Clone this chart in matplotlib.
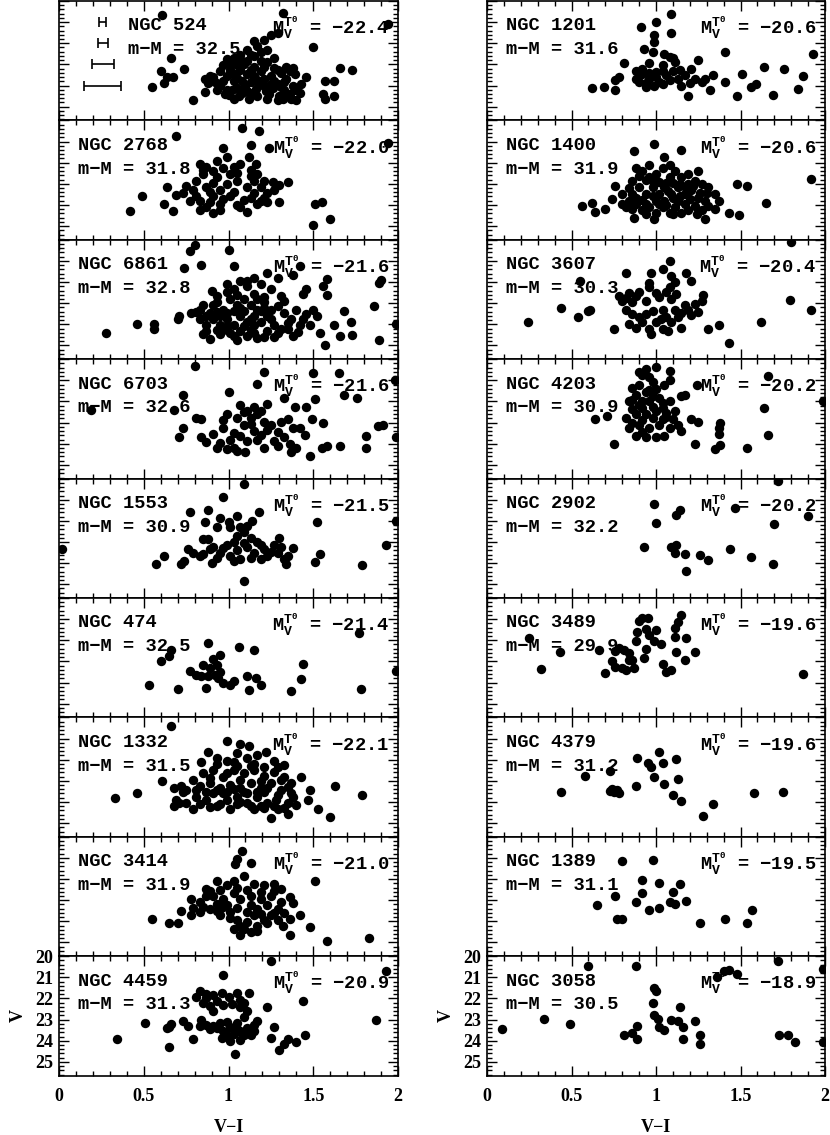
import numpy as np
import matplotlib.pyplot as plt
from matplotlib.ticker import MultipleLocator

plt.rcParams['font.family'] = ['Liberation Serif', 'DejaVu Serif']
plt.rcParams['font.weight'] = 'bold'
plt.rcParams['axes.labelweight'] = 'bold'
plt.rcParams['mathtext.fontset'] = 'custom'
plt.rcParams['mathtext.rm'] = 'Liberation Mono:bold'
plt.rcParams['mathtext.it'] = 'Liberation Mono:bold'

# galaxy labels, distance moduli and total magnitudes (left column, then right)
left_names = ['NGC 524', 'NGC 2768', 'NGC 6861', 'NGC 6703', 'NGC 1553',
              'NGC 474', 'NGC 1332', 'NGC 3414', 'NGC 4459']
left_dm = [32.5, 31.8, 32.8, 32.6, 30.9, 32.5, 31.5, 31.9, 31.3]
left_mv = [-22.4, -22.0, -21.6, -21.6, -21.5, -21.4, -22.1, -21.0, -20.9]

right_names = ['NGC 1201', 'NGC 1400', 'NGC 3607', 'NGC 4203', 'NGC 2902',
               'NGC 3489', 'NGC 4379', 'NGC 1389', 'NGC 3058']
right_dm = [31.6, 31.9, 30.3, 30.9, 32.2, 29.9, 31.2, 31.1, 30.5]
right_mv = [-20.6, -20.6, -20.4, -20.2, -20.2, -19.6, -19.6, -19.5, -18.9]

# typical errors in V-I at V = 21..24 (shown in the first panel)
err_v = [21, 22, 23, 24]
err_vi = [0.02, 0.03, 0.065, 0.11]

# globular clusters: (V-I, V)
n524 = [(0.61, 20.66), (1.32, 20.55), (1.94, 21.1), (0.66, 22.7), (0.74, 23.2), (0.60, 23.3), (0.64, 23.6),
        (0.67, 23.6), (0.62, 23.9), (0.55, 24.05), (0.79, 24.7), (0.86, 24.3), (0.86, 23.7), (0.89, 23.55),
        (1.50, 22.2), (1.66, 23.15), (1.73, 23.25), (1.38, 23.15), (1.46, 23.6), (1.57, 23.8), (1.62, 23.8),
        (1.57, 24.65), (1.62, 24.5), (1.56, 24.4), (1.03, 22.7), (1.07, 22.55), (1.11, 22.3), (1.15, 21.9),
        (1.21, 21.85), (1.25, 21.6), (1.29, 21.5), (1.17, 22.15), (0.99, 22.75), (1.07, 22.75), (1.01, 23.0),
        (1.15, 22.6), (1.19, 22.85), (1.11, 22.85), (1.34, 23.1), (1.27, 22.7), (0.95, 23.3), (0.99, 23.55),
        (1.03, 23.8), (1.07, 23.25), (1.11, 23.45), (1.15, 23.1), (1.19, 23.3), (1.23, 22.9), (1.27, 23.15),
        (1.31, 23.4), (1.34, 23.7), (1.38, 24.0), (1.42, 24.35), (0.95, 24.0), (0.98, 24.4), (1.02, 24.2),
        (1.06, 24.5), (1.10, 24.0), (1.14, 24.35), (1.18, 23.95), (1.22, 24.25), (1.26, 24.1), (1.30, 24.5),
        (1.33, 24.2), (1.37, 24.65), (1.40, 24.7), (1.43, 23.95), (0.97, 23.8), (1.01, 23.25), (1.05, 24.1),
        (1.09, 23.0), (1.13, 23.85), (1.17, 24.5), (1.21, 23.7), (1.25, 23.55), (1.29, 23.95), (1.32, 24.65),
        (1.36, 24.4), (1.39, 23.45), (0.91, 23.6), (0.92, 23.85), (0.88, 23.9), (1.03, 24.65), (1.12, 24.65),
        (1.23, 24.65), (1.29, 24.7), (1.03, 23.45), (1.15, 23.55), (1.27, 23.8), (0.99, 24.2), (1.11, 24.25),
        (1.21, 24.0), (1.33, 23.85), (1.08, 23.8), (0.97, 23.05), (1.05, 23.05), (1.13, 23.25), (1.21, 23.1),
        (1.29, 23.25), (1.36, 23.3), (1.00, 24.45), (1.08, 24.35), (1.16, 24.15), (1.24, 24.4), (1.31, 24.05),
        (1.40, 24.2), (1.13, 22.55), (1.23, 22.3), (1.19, 22.4), (0.93, 24.2), (1.05, 23.65), (1.17, 23.75),
        (1.25, 23.95), (1.35, 24.5)]
n2768 = [(1.08, 20.35), (1.18, 20.5), (0.69, 20.75), (1.94, 21.05), (0.97, 21.3), (1.13, 21.15), (1.24, 21.3),
         (1.50, 24.95), (1.60, 24.65), (1.51, 23.95), (1.55, 23.85), (0.42, 24.3), (0.49, 23.6), (0.62, 23.95),
         (0.67, 24.3), (0.64, 23.15), (0.69, 23.55), (0.73, 23.45), (1.35, 22.9), (1.30, 23.85), (1.23, 23.85),
         (0.83, 22.05), (0.87, 22.2), (0.93, 21.9), (0.99, 21.75), (1.03, 22.2), (1.07, 22.05), (1.12, 21.75),
         (1.16, 22.05), (1.17, 22.55), (1.21, 22.85), (1.26, 22.9), (0.79, 23.3), (0.83, 23.8), (0.87, 24.1),
         (0.91, 24.4), (0.95, 23.95), (0.81, 22.85), (0.87, 23.15), (0.93, 22.7), (0.99, 23.0), (1.05, 22.85),
         (1.11, 23.15), (1.15, 23.45), (1.07, 24.1), (1.11, 24.35), (1.17, 23.95), (1.01, 23.6), (0.95, 23.3),
         (1.03, 23.4), (1.09, 23.75), (0.91, 23.6), (0.77, 23.8), (0.85, 22.55), (1.01, 22.55), (1.13, 22.65),
         (1.19, 23.15), (1.23, 23.45), (1.27, 23.3), (1.30, 23.05), (0.83, 24.25), (0.95, 24.25), (1.19, 23.8),
         (0.85, 22.35), (0.91, 22.4), (0.97, 22.25), (1.05, 22.5), (1.13, 22.35), (0.89, 23.4), (0.97, 23.7),
         (1.05, 24.0), (1.13, 23.65), (1.21, 23.65), (0.75, 23.1), (0.81, 23.6), (0.89, 23.85), (1.15, 22.85),
         (0.91, 22.95)]
n6861 = [(0.80, 20.25), (0.77, 20.55), (1.00, 20.5), (0.74, 21.35), (0.84, 21.2), (1.03, 21.25), (1.42, 21.25),
         (1.38, 21.65), (1.58, 21.85), (1.56, 22.2), (1.58, 22.6), (1.46, 22.35), (1.44, 22.55), (1.90, 21.9),
         (1.89, 22.05), (1.86, 23.15), (1.99, 24.0), (1.89, 24.75), (1.72, 23.9), (1.73, 24.5), (1.66, 24.55),
         (1.62, 24.05), (1.68, 23.35), (1.57, 25.0), (0.28, 24.4), (0.46, 24.0), (0.56, 24.0), (0.56, 24.2),
         (0.71, 23.6), (0.70, 23.75), (0.90, 22.4), (0.78, 23.45), (0.99, 22.1), (1.07, 21.95), (1.15, 21.8),
         (1.23, 21.55), (1.29, 21.8), (1.03, 22.35), (1.11, 22.2), (1.19, 22.1), (1.25, 22.35), (1.31, 22.65),
         (0.85, 23.1), (0.89, 23.45), (0.93, 22.95), (0.97, 23.3), (1.01, 22.8), (1.05, 23.1), (1.09, 22.8),
         (1.13, 23.1), (1.17, 22.8), (1.21, 22.95), (1.25, 23.3), (0.83, 23.75), (0.87, 24.05), (0.91, 23.75),
         (0.95, 24.05), (0.99, 23.75), (1.03, 24.05), (1.07, 23.6), (1.11, 23.9), (1.15, 23.6), (1.19, 23.9),
         (1.23, 23.6), (1.27, 24.05), (0.85, 24.45), (0.89, 24.7), (0.95, 24.45), (1.01, 24.4), (1.05, 24.75),
         (1.11, 24.55), (1.15, 24.4), (1.21, 24.6), (1.29, 24.4), (1.35, 24.2), (1.38, 24.55), (1.33, 23.45),
         (1.37, 23.75), (1.40, 23.3), (1.44, 23.75), (1.48, 24.05), (1.52, 23.6), (1.54, 24.4), (1.50, 23.3),
         (1.42, 24.05), (1.29, 23.15), (1.15, 24.05), (0.93, 22.65), (0.81, 23.4), (0.93, 23.4), (1.09, 23.35),
         (1.19, 23.35), (0.97, 24.25), (1.07, 24.3), (0.83, 23.3), (0.87, 23.6), (0.91, 23.1), (0.95, 23.6),
         (0.99, 23.45), (1.03, 23.35), (1.07, 23.25), (1.13, 23.75), (1.17, 23.3), (1.21, 23.25), (1.25, 23.75),
         (0.87, 24.3), (0.93, 24.25), (0.99, 24.1), (1.03, 24.55), (1.09, 24.1), (1.13, 24.25), (1.17, 24.65),
         (1.23, 24.3), (1.27, 24.6), (1.31, 24.2), (1.35, 23.95), (1.41, 24.35), (1.46, 23.5), (1.33, 22.9),
         (1.05, 22.6), (1.15, 22.55), (1.21, 22.7), (0.99, 22.45), (1.11, 21.95)]
n6703 = [(0.80, 20.3), (1.50, 20.65), (1.21, 20.6), (1.17, 21.15), (1.65, 20.65), (1.98, 21.0), (1.68, 21.7),
         (1.76, 21.85), (1.51, 21.9), (1.46, 22.25), (1.39, 22.25), (1.33, 21.85), (1.00, 21.55), (0.73, 21.7),
         (0.68, 22.4), (0.19, 22.4), (0.81, 22.8), (0.84, 22.85), (0.73, 23.25), (0.71, 23.7), (0.84, 23.7),
         (1.49, 22.85), (1.56, 23.0), (1.88, 23.15), (1.91, 23.1), (1.81, 23.65), (1.81, 24.2), (1.99, 23.7),
         (1.66, 24.1), (1.58, 24.1), (1.55, 24.2), (1.48, 24.6), (1.37, 24.4), (1.40, 24.2), (1.10, 24.4),
         (1.07, 22.15), (1.11, 22.45), (1.15, 22.25), (1.19, 22.45), (1.23, 22.1), (1.13, 22.8), (1.09, 23.1),
         (1.15, 23.4), (1.17, 23.8), (1.21, 24.2), (1.03, 23.5), (1.01, 23.8), (1.05, 22.8), (0.99, 22.6),
         (0.97, 23.25), (0.91, 23.55), (0.87, 23.9), (0.93, 24.2), (0.99, 24.25), (1.03, 24.2), (1.05, 24.35),
         (1.31, 22.95), (1.35, 22.85), (1.38, 23.25), (1.42, 23.25), (1.29, 23.45), (1.33, 23.7), (1.36, 24.0),
         (1.27, 23.85), (1.23, 23.35), (1.21, 22.95), (1.11, 23.85), (1.09, 22.5), (1.13, 23.05), (1.19, 23.6),
         (1.25, 23.1), (0.95, 23.95), (1.07, 23.65), (1.29, 24.1), (1.17, 22.6), (0.97, 22.9), (1.45, 23.6)]
n1553 = [(1.09, 20.25), (0.97, 20.85), (0.88, 21.5), (0.77, 21.6), (0.86, 22.05), (0.95, 21.85), (1.05, 21.75),
         (1.18, 21.6), (1.14, 22.0), (1.11, 22.25), (1.07, 22.3), (1.01, 22.3), (0.93, 22.3), (1.52, 22.05),
         (1.99, 22.0), (0.02, 23.35), (1.93, 23.15), (1.79, 24.1), (1.54, 23.55), (1.51, 23.95), (1.38, 23.3),
         (1.30, 22.8), (1.09, 24.85), (0.57, 24.05), (0.62, 23.65), (0.72, 24.05), (0.74, 23.9), (0.76, 23.35),
         (0.83, 23.65), (0.85, 22.85), (0.88, 22.85), (0.90, 24.0), (0.89, 23.35), (0.95, 23.5), (0.99, 23.15),
         (1.01, 23.65), (1.03, 23.0), (1.05, 23.4), (1.07, 23.8), (1.11, 23.25), (1.15, 23.5), (1.17, 23.0),
         (1.21, 23.35), (1.23, 23.65), (1.27, 23.15), (1.29, 23.5), (1.33, 23.8), (1.34, 24.05), (1.05, 22.7),
         (1.13, 22.8), (1.19, 23.8), (1.03, 23.9), (0.91, 23.25), (0.79, 23.5), (1.35, 23.65), (0.97, 23.3),
         (1.09, 23.05), (1.13, 23.75), (1.25, 23.45), (1.19, 23.15), (1.31, 23.25), (0.85, 23.55), (1.00, 22.05),
         (1.09, 22.55), (0.93, 23.75)]
n474 = [(1.77, 21.65), (0.88, 22.15), (1.06, 22.3), (1.15, 22.45), (0.66, 22.45), (0.65, 22.75), (0.60, 23.0),
        (1.44, 23.1), (1.43, 23.85), (1.37, 24.4), (1.78, 24.3), (1.99, 23.45), (0.53, 24.1), (0.70, 24.3),
        (0.87, 24.25), (1.12, 24.35), (0.95, 22.7), (0.91, 22.9), (0.93, 23.15), (0.85, 23.15), (0.89, 23.3),
        (0.77, 23.45), (0.81, 23.65), (0.84, 23.7), (0.88, 23.7), (0.92, 23.65), (0.94, 23.8), (0.97, 24.0),
        (1.01, 24.1), (1.03, 23.95), (1.11, 23.7), (1.16, 23.8), (1.19, 24.1), (0.95, 23.5)]
n1332 = [(0.66, 20.4), (0.99, 21.1), (1.07, 21.25), (1.12, 21.35), (0.88, 21.65), (0.84, 22.1), (0.61, 23.0),
         (0.33, 23.8), (0.46, 23.6), (1.63, 23.25), (1.79, 23.65), (1.43, 22.8), (1.48, 23.45), (1.47, 23.9),
         (1.53, 24.35), (1.60, 24.7), (1.25, 24.75), (1.35, 24.55), (0.93, 21.9), (0.99, 22.05), (1.05, 21.7),
         (1.11, 21.9), (1.17, 21.8), (1.22, 21.65), (1.27, 22.05), (1.33, 22.25), (0.68, 23.35), (0.72, 23.25),
         (0.79, 22.95), (0.85, 22.65), (0.91, 22.5), (0.97, 22.8), (1.03, 22.5), (1.09, 22.65), (1.15, 22.5),
         (1.21, 22.75), (1.27, 22.6), (1.33, 22.8), (1.37, 23.1), (0.69, 23.9), (0.68, 24.2), (0.75, 24.05),
         (0.81, 23.75), (0.87, 23.9), (0.93, 24.2), (0.99, 23.9), (1.01, 24.35), (1.05, 23.75), (1.11, 24.05),
         (1.17, 23.75), (1.23, 24.05), (1.28, 23.9), (1.35, 24.05), (1.38, 23.75), (1.40, 24.15), (0.75, 23.45),
         (0.83, 23.25), (0.89, 23.1), (0.95, 23.35), (1.01, 23.2), (1.07, 23.35), (1.13, 23.1), (1.19, 23.35),
         (1.25, 23.1), (1.31, 23.45), (1.37, 23.6), (1.15, 24.35), (1.29, 24.35), (0.79, 24.35), (0.91, 23.6),
         (1.03, 22.1), (1.15, 22.2), (0.97, 23.6), (1.09, 23.55), (1.21, 23.55), (1.05, 24.1), (1.19, 24.2),
         (0.93, 22.2), (1.05, 22.3), (1.13, 22.3), (1.21, 22.35), (1.29, 22.35), (0.73, 23.55), (0.81, 23.45),
         (0.87, 23.55), (0.93, 23.45), (0.99, 23.55), (1.03, 23.4), (1.11, 23.6), (1.17, 23.55), (1.23, 23.35),
         (1.29, 23.65), (1.35, 23.3), (0.71, 24.05), (0.83, 24.1), (0.89, 24.25), (0.95, 24.1), (1.07, 24.0),
         (1.13, 24.2), (1.21, 24.3), (1.27, 24.2), (1.33, 24.3), (0.89, 22.85), (0.99, 22.65), (1.07, 22.95),
         (1.19, 23.0), (1.31, 22.95)]
n3414 = [(1.08, 20.65), (1.05, 21.05), (1.04, 21.3), (1.13, 21.25), (1.51, 22.1), (1.83, 24.8), (1.58, 24.95),
         (1.48, 24.25), (1.36, 24.65), (0.55, 23.9), (0.65, 24.1), (0.70, 24.1), (0.72, 23.5), (0.78, 23.7),
         (0.78, 22.95), (0.83, 23.1), (0.87, 22.45), (0.93, 22.1), (0.99, 22.3), (1.03, 22.1), (1.09, 21.85),
         (1.15, 22.25), (1.21, 22.3), (1.27, 22.25), (1.31, 22.45), (1.36, 22.85), (1.38, 23.15), (1.42, 23.7),
         (0.91, 22.8), (0.97, 22.95), (1.03, 22.65), (1.07, 22.95), (1.13, 22.8), (1.19, 22.95), (1.25, 22.8),
         (1.31, 23.1), (0.83, 23.55), (0.89, 23.4), (0.95, 23.7), (1.01, 23.55), (1.05, 23.95), (1.09, 24.35),
         (1.13, 24.5), (1.17, 24.2), (1.21, 23.95), (1.25, 23.7), (1.29, 23.95), (1.32, 24.2), (1.36, 23.9),
         (1.11, 23.55), (1.17, 23.4), (1.23, 23.25), (1.03, 24.35), (1.07, 24.65), (1.15, 23.7), (1.29, 23.4),
         (0.99, 23.25), (0.93, 23.2), (0.87, 22.8), (0.89, 22.55), (0.95, 22.5), (1.05, 22.4), (1.11, 22.5),
         (1.19, 22.6), (1.27, 22.55), (0.79, 23.35), (0.85, 23.3), (0.93, 23.5), (0.97, 23.3), (1.05, 23.35),
         (1.13, 23.25), (1.19, 23.65), (1.27, 23.6), (1.23, 24.1), (1.11, 24.05), (1.07, 24.2), (1.01, 23.85),
         (1.33, 23.6), (1.17, 24.45)]
n4459 = [(1.25, 20.25), (1.93, 20.7), (0.97, 20.9), (1.87, 23.0), (1.44, 22.1), (0.34, 23.9), (0.51, 23.15),
         (0.65, 23.35), (0.66, 23.2), (0.64, 23.4), (0.65, 24.3), (0.73, 23.05), (0.76, 23.3), (0.79, 23.9),
         (1.04, 24.65), (0.96, 23.85), (1.23, 22.4), (1.27, 23.35), (1.25, 23.85), (1.30, 24.45), (1.33, 24.15),
         (1.35, 23.9), (1.40, 24.05), (1.45, 23.75), (1.17, 23.05), (1.15, 23.55), (1.13, 23.75), (0.83, 21.65),
         (0.87, 21.8), (0.81, 21.95), (0.85, 22.2), (0.89, 22.35), (0.93, 22.1), (0.91, 22.6), (0.96, 21.75),
         (1.00, 21.95), (1.02, 22.25), (1.05, 21.75), (1.12, 21.75), (1.07, 22.4), (1.11, 22.6), (1.09, 22.9),
         (1.05, 23.15), (1.01, 23.35), (0.97, 23.55), (0.93, 23.4), (0.87, 23.25), (0.84, 23.0), (0.89, 23.45),
         (0.83, 23.3), (0.99, 23.1), (1.03, 23.7), (1.07, 23.55), (1.11, 23.4), (1.07, 23.95), (1.01, 24.0),
         (1.15, 23.25), (0.87, 22.0), (0.91, 21.85), (0.97, 22.3), (1.07, 22.05), (1.09, 22.2), (0.95, 23.15),
         (0.91, 23.3), (1.05, 23.45), (1.09, 23.75), (0.99, 23.75)]

n1201 = [(1.09, 20.6), (1.00, 21.0), (0.91, 21.25), (1.09, 21.5), (0.99, 21.6), (0.99, 21.95), (0.93, 22.25),
         (0.98, 22.4), (0.81, 22.95), (1.41, 22.4), (1.93, 22.5), (1.25, 22.8), (1.64, 23.1), (1.76, 23.2),
         (1.87, 23.55), (1.84, 24.15), (1.69, 24.45), (1.59, 23.95), (1.56, 24.05), (1.51, 23.45), (1.48, 24.5),
         (1.41, 23.85), (1.34, 23.5), (1.32, 24.2), (1.19, 24.5), (0.62, 24.1), (0.69, 24.05), (0.76, 24.2),
         (0.76, 23.75), (0.78, 23.6), (0.88, 23.3), (0.88, 23.7), (0.92, 23.45), (0.94, 24.05), (0.96, 23.7),
         (1.00, 23.35), (1.02, 23.85), (1.04, 23.05), (1.06, 23.5), (1.08, 22.65), (1.11, 22.9), (1.13, 23.7),
         (1.15, 24.0), (1.17, 23.5), (1.21, 23.2), (1.23, 23.7), (1.27, 23.85), (1.29, 23.7), (0.96, 22.95),
         (1.05, 22.5), (0.90, 23.85), (0.99, 24.0), (1.08, 23.75), (0.92, 23.2), (0.96, 23.4), (1.00, 23.6),
         (1.04, 23.3), (1.10, 23.3), (1.14, 23.25), (0.94, 23.9), (1.04, 23.95), (1.20, 23.9), (1.10, 22.7)]
n1400 = [(0.99, 21.1), (0.87, 21.45), (1.15, 21.4), (1.05, 21.75), (1.25, 22.4), (1.92, 22.75), (1.48, 23.0),
         (1.54, 23.1), (1.65, 23.9), (1.43, 24.4), (1.49, 24.5), (1.29, 24.65), (0.56, 24.05), (0.62, 23.9),
         (0.64, 24.35), (0.70, 24.2), (0.87, 24.6), (0.99, 24.65), (0.76, 23.1), (0.80, 23.5), (0.84, 23.8),
         (0.88, 22.25), (0.92, 22.4), (0.96, 22.1), (1.00, 22.55), (1.04, 22.25), (1.08, 22.1), (1.11, 22.4),
         (1.15, 22.7), (1.19, 22.55), (1.23, 22.85), (1.27, 23.0), (1.31, 23.15), (1.35, 23.5), (1.37, 23.8),
         (0.86, 22.85), (0.90, 23.15), (0.94, 23.5), (0.98, 23.15), (1.02, 23.5), (1.05, 23.15), (1.09, 23.5),
         (1.13, 23.15), (1.17, 23.5), (1.21, 23.3), (1.25, 23.65), (1.29, 23.8), (0.88, 23.95), (0.92, 24.25),
         (0.96, 24.1), (1.00, 24.4), (1.04, 24.1), (1.08, 24.4), (1.11, 24.1), (1.15, 24.4), (1.19, 24.25),
         (1.23, 24.05), (1.27, 24.25), (1.31, 24.05), (1.35, 24.2), (0.74, 23.7), (0.82, 24.1), (0.86, 23.5),
         (0.96, 22.7), (1.08, 22.7), (0.94, 23.95), (1.05, 23.8), (1.13, 23.8), (1.00, 23.8), (1.17, 23.95),
         (1.07, 23.35), (1.19, 23.0), (0.90, 22.65), (0.94, 22.8), (0.98, 22.85), (1.02, 22.9), (1.06, 22.95),
         (1.10, 22.95), (1.14, 23.0), (1.18, 23.2), (1.22, 23.1), (0.84, 23.2), (0.88, 23.65), (0.92, 23.75),
         (0.98, 23.6), (1.02, 23.95), (1.06, 24.0), (1.10, 23.65), (1.14, 23.6), (1.20, 23.7), (1.26, 23.45),
         (1.30, 23.45), (0.80, 23.95), (0.86, 24.2), (0.94, 24.45), (1.10, 24.45), (1.24, 24.45)]
n3607 = [(1.80, 20.1), (1.08, 21.0), (1.04, 21.4), (0.97, 21.55), (0.82, 21.55), (1.18, 21.55), (1.09, 21.7),
         (0.55, 21.95), (1.21, 21.95), (1.79, 22.85), (1.92, 23.3), (1.62, 23.9), (1.43, 24.9), (1.37, 24.05),
         (1.31, 24.2), (0.75, 24.2), (0.24, 23.9), (0.44, 23.25), (0.54, 23.65), (0.60, 23.35), (0.61, 23.3),
         (0.78, 22.65), (0.80, 22.9), (0.84, 22.5), (0.88, 22.65), (0.82, 23.3), (0.86, 23.5), (0.90, 23.65),
         (0.94, 22.9), (0.96, 22.25), (0.96, 22.05), (1.00, 22.5), (1.04, 23.3), (1.06, 23.65), (1.08, 22.25),
         (1.09, 22.8), (1.11, 23.3), (1.13, 23.65), (1.15, 23.45), (1.19, 23.3), (1.23, 23.05), (1.27, 22.9),
         (1.28, 22.6), (1.25, 23.4), (0.84, 24.0), (0.88, 24.15), (0.96, 24.2), (0.97, 24.45), (1.00, 23.9),
         (1.04, 24.2), (1.07, 24.3), (1.09, 23.9), (1.15, 24.15), (0.92, 23.9), (1.03, 23.75), (1.11, 22.0),
         (0.82, 22.75), (0.86, 22.95), (0.90, 22.45), (0.98, 23.35), (1.02, 22.7), (1.06, 22.45), (1.12, 22.55),
         (1.17, 23.1), (1.21, 23.55), (0.94, 23.5)]
n4203 = [(1.08, 20.55), (1.08, 21.0), (1.66, 20.8), (1.24, 21.2), (1.17, 21.7), (1.15, 21.75), (1.99, 22.0),
         (1.64, 22.3), (0.64, 22.85), (0.71, 22.7), (0.75, 24.0), (1.23, 24.0), (1.21, 22.85), (1.25, 22.95),
         (1.38, 23.0), (1.37, 23.25), (1.37, 23.55), (1.38, 24.05), (1.35, 24.25), (1.54, 24.2), (1.66, 23.6),
         (0.90, 20.6), (0.94, 20.45), (1.00, 20.35), (0.96, 20.85), (0.90, 21.2), (0.94, 21.55), (1.00, 21.4),
         (1.05, 21.2), (0.88, 21.7), (0.84, 22.0), (0.90, 22.15), (0.96, 22.0), (1.02, 21.85), (1.08, 22.0),
         (1.11, 22.45), (1.00, 22.45), (0.94, 22.6), (0.88, 22.6), (0.82, 22.8), (0.84, 23.25), (0.90, 23.1),
         (0.96, 23.25), (1.02, 23.1), (1.08, 23.25), (1.13, 23.1), (0.88, 23.65), (0.94, 23.7), (1.00, 23.7),
         (1.05, 23.65), (1.15, 23.4), (0.92, 22.3), (1.04, 22.3), (0.86, 21.35), (0.98, 21.75), (1.06, 22.75),
         (0.92, 20.75), (0.98, 21.1), (0.96, 21.45), (0.86, 21.95), (0.92, 22.0), (0.98, 22.25), (1.04, 22.05),
         (0.86, 22.35), (1.06, 22.55), (0.86, 23.0), (0.92, 22.9), (0.98, 22.8), (1.04, 22.85), (1.10, 22.85),
         (0.92, 23.45)]
n2902 = [(1.72, 20.1), (0.99, 21.2), (1.14, 21.5), (1.12, 21.7), (1.00, 22.1), (1.47, 21.4), (1.70, 22.15),
         (1.90, 21.75), (0.93, 23.25), (1.09, 23.25), (1.12, 23.15), (1.11, 23.5), (1.17, 23.55), (1.18, 24.35),
         (1.26, 23.6), (1.31, 23.85), (1.44, 23.35), (1.56, 23.7), (1.69, 24.05)]
n3489 = [(0.32, 23.35), (0.43, 22.55), (0.25, 21.9), (0.66, 22.45), (0.70, 23.55), (0.74, 23.0), (0.76, 23.25),
         (0.80, 23.3), (0.82, 23.4), (0.87, 23.3), (0.76, 22.5), (0.78, 22.35), (0.81, 22.45), (0.84, 22.6),
         (0.86, 22.95), (0.88, 22.05), (0.89, 21.6), (0.92, 20.95), (0.94, 21.45), (0.96, 21.75), (0.94, 22.4),
         (0.93, 22.85), (1.00, 21.5), (0.99, 22.05), (1.03, 22.2), (1.04, 23.1), (1.06, 23.5), (1.09, 23.4),
         (1.12, 22.55), (1.11, 21.85), (1.11, 21.4), (1.13, 21.15), (1.15, 20.8), (1.18, 21.9), (1.17, 22.95),
         (1.23, 22.55), (1.87, 23.6), (0.84, 22.95), (0.90, 21.1), (0.95, 20.95)]
n4379 = [(0.44, 23.55), (0.58, 22.75), (0.73, 22.55), (0.74, 23.4), (0.75, 23.55), (0.77, 23.45), (0.78, 23.6),
         (0.73, 23.5), (0.88, 23.25), (0.89, 21.9), (0.95, 22.15), (0.97, 22.35), (0.99, 22.8), (1.02, 21.65),
         (1.04, 22.15), (1.05, 23.15), (1.10, 23.65), (1.12, 21.95), (1.13, 22.9), (1.15, 23.95), (1.28, 24.65),
         (1.34, 24.1), (1.58, 23.6), (1.75, 23.55)]
n1389 = [(0.80, 21.15), (0.98, 21.1), (0.92, 22.05), (1.02, 22.2), (0.92, 22.65), (0.88, 23.1), (0.96, 23.45),
         (1.02, 23.35), (1.08, 23.1), (1.11, 23.2), (1.10, 22.6), (1.14, 22.25), (1.18, 23.05), (0.76, 22.8),
         (0.65, 23.25), (0.77, 23.9), (0.80, 23.9), (1.26, 24.1), (1.41, 23.9), (1.54, 24.1), (1.57, 23.45)]
n3058 = [(0.09, 23.45), (0.34, 22.95), (0.49, 23.2), (0.60, 20.45), (0.88, 20.45), (1.72, 20.25), (1.99, 20.6),
         (1.48, 20.85), (1.43, 20.65), (1.40, 20.7), (1.36, 21.0), (0.99, 21.5), (1.00, 21.65), (0.98, 22.2),
         (0.99, 22.8), (1.01, 22.95), (1.02, 23.35), (1.05, 23.5), (1.09, 23.0), (1.13, 23.05), (1.14, 22.4),
         (1.16, 23.35), (1.16, 23.9), (1.23, 23.05), (1.26, 23.75), (1.26, 24.15), (0.81, 23.75), (0.86, 23.65),
         (0.89, 23.9), (0.89, 23.3), (1.73, 23.75), (1.78, 23.75), (1.82, 24.05), (1.99, 24.05)]

left_data = [n524, n2768, n6861, n6703, n1553, n474, n1332, n3414, n4459]
right_data = [n1201, n1400, n3607, n4203, n2902, n3489, n4379, n1389, n3058]

fig = plt.figure(figsize=(8.3, 11.35), dpi=100)

W, H = 830.0, 1135.0
col_left = [59 / W, 487 / W]
col_width = [339 / W, 338 / W]
row_h = 119.4
top_px = 1.0

lab_font = ['Liberation Mono', 'DejaVu Sans Mono']

for col, (names, dms, mvs, datas) in enumerate([(left_names, left_dm, left_mv, left_data),
                                                 (right_names, right_dm, right_mv, right_data)]):
    for k in range(9):
        bottom = 1 - (top_px + (k + 1) * row_h) / H
        ax = fig.add_axes([col_left[col], bottom, col_width[col], row_h / H])
        x, v = np.array(datas[k]).T
        ax.scatter(x, v, s=46, c='k', linewidths=0, zorder=4)
        ax.set_xlim(0, 2)
        ax.set_ylim(25.65, 20.0)
        ax.xaxis.set_major_locator(MultipleLocator(0.5))
        ax.xaxis.set_minor_locator(MultipleLocator(0.1))
        ax.yaxis.set_major_locator(MultipleLocator(1))
        ax.yaxis.set_minor_locator(MultipleLocator(0.2))
        ax.tick_params(which='both', direction='in', top=True, right=True, width=1.0,
                       labelsize=13)
        ax.tick_params(which='major', length=7)
        ax.tick_params(which='minor', length=3.5)
        for s in ax.spines.values():
            s.set_linewidth(1.2)

        xname = 0.204 if (col == 0 and k == 0) else 0.056
        ax.text(xname, 0.753, names[k], transform=ax.transAxes, fontsize=13.5,
                family=lab_font, weight='bold', va='baseline', ha='left')
        ax.text(xname, 0.555, 'm\u2212M = %.1f' % dms[k], transform=ax.transAxes,
                fontsize=13.5, family=lab_font, weight='bold', va='baseline', ha='left')
        ax.text(0.975, 0.715, r'$\mathrm{M_V^{T^0}}$ = ' + ('%.1f' % mvs[k]).replace('-', '\u2212'),
                transform=ax.transAxes, fontsize=13.5, family=lab_font, weight='bold',
                va='baseline', ha='right')

        if col == 0 and k == 0:
            ax.errorbar([0.258] * len(err_v), err_v, xerr=err_vi, fmt='none',
                        ecolor='k', elinewidth=1.2, capsize=3.6, capthick=1.2)

        if k == 8:
            ax.set_xticks([0, 0.5, 1, 1.5, 2])
            ax.set_xticklabels(['0', '0.5', '1', '1.5', '2'])
            ax.set_yticks([20, 21, 22, 23, 24, 25])
            ax.set_yticklabels(['20', '21', '22', '23', '24', '25'])
            ax.tick_params(axis='x', pad=9)
            ax.tick_params(axis='y', pad=4)
            ax.set_xlabel('V\u2212I', fontsize=13, fontweight='bold', labelpad=10)
            ax.set_ylabel('V', fontsize=13, fontweight='bold', labelpad=6)
        else:
            ax.set_xticklabels([])
            ax.set_yticklabels([])

fig.savefig('out.png', dpi=100)
